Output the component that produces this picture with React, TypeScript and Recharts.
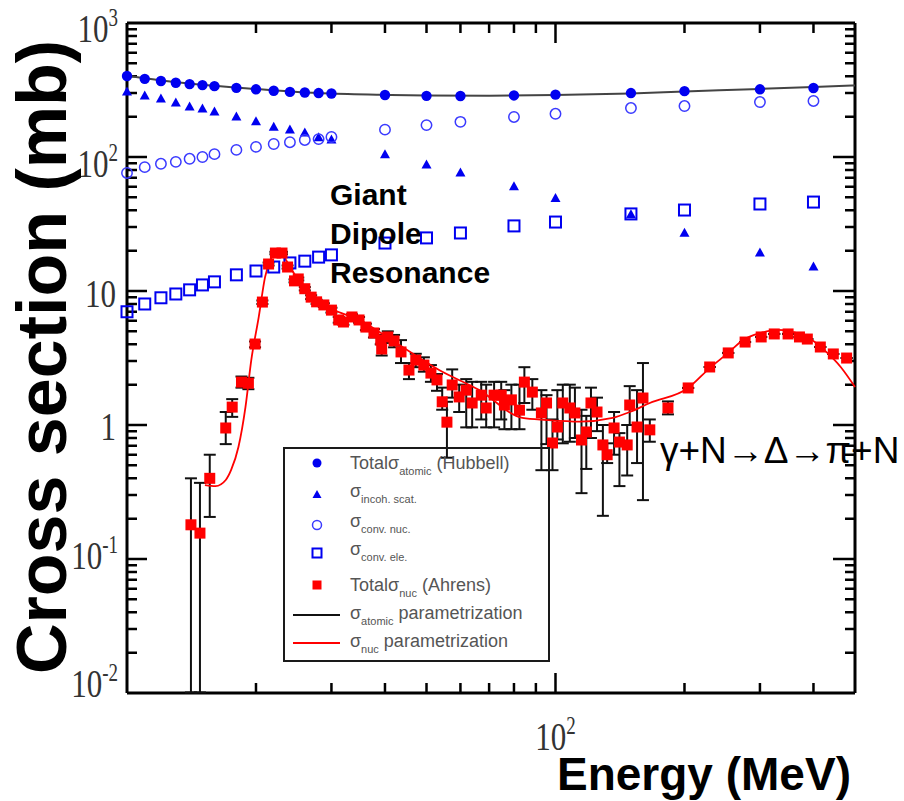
import React from 'react';
import { ScatterChart, Scatter, XAxis, YAxis, ErrorBar, ReferenceLine } from 'recharts';

// Hubbell energies (MeV) and the four photon cross sections (mb)
const energies = [10, 11, 12, 13, 14, 15, 16, 18, 20, 22, 24, 26, 28, 30, 40, 50, 60, 80, 100, 150, 200, 300, 400];
const totalAtomic = [402, 383, 369, 358, 350, 344, 338, 328, 320, 312, 306, 303, 300, 298, 290, 286, 285, 288, 292, 300, 310, 320, 327];
const incohScat = [305, 285, 271, 253, 236, 228, 217, 199, 183, 167, 159, 151, 139, 134, 104, 87, 76, 60, 49, 37, 27, 19.2, 15.1];
const convNuc = [76, 84, 89, 92, 97, 100, 105, 113, 119, 125, 129, 134, 136, 141, 160, 173, 183, 199, 210, 232, 240, 257, 262];
const convEle = [7.0, 8.0, 8.9, 9.5, 10.2, 11.1, 11.7, 13.2, 14.1, 15.1, 16.2, 16.7, 17.9, 18.6, 22.8, 24.9, 27.1, 30.6, 32.7, 37.6, 40.2, 44.6, 46.1];

// Ahrens total nuclear cross section: [energy, sigma, lower bound, upper bound]
const ahrens: [number, number, number, number][] = [
  [14.1, 0.18, 0.0101, 0.4],
  [14.8, 0.156, 0.0101, 0.37],
  [15.6, 0.4, 0.206, 0.6],
  [17.0, 0.95, 0.72, 1.25],
  [17.6, 1.36, 1.15, 1.56],
  [18.5, 2.09, 1.9, 2.3],
  [19.2, 2.05, 1.85, 2.25],
  [19.9, 4.02, 3.8, 4.2],
  [20.7, 8.27, 8.0, 8.5],
  [21.4, 15.9, 15.5, 16.3],
  [22.2, 19.2, 18.8, 19.6],
  [23.0, 19.2, 18.8, 19.6],
  [23.7, 15.1, 14.7, 15.5],
  [24.6, 11.9, 11.6, 12.2],
  [25.1, 12.3, 12.0, 12.6],
  [26.0, 10.4, 10.1, 10.7],
  [26.9, 9.0, 8.7, 9.3],
  [27.7, 8.3, 8.0, 8.6],
  [28.8, 7.87, 7.6, 8.1],
  [30.0, 7.2, 6.9, 7.5],
  [31.2, 6.08, 5.8, 6.4],
  [32.0, 5.87, 5.6, 6.2],
  [33.5, 6.4, 6.1, 6.7],
  [34.8, 6.08, 5.8, 6.4],
  [36.1, 5.38, 5.1, 5.7],
  [37.7, 4.86, 4.5, 5.2],
  [39.1, 4.31, 4.0, 4.7],
  [39.3, 3.69, 3.3, 4.1],
  [40.6, 4.54, 4.1, 5.0],
  [42.0, 4.24, 3.8, 4.7],
  [43.6, 3.51, 2.9, 4.3],
  [45.5, 2.57, 2.2, 2.9],
  [47.2, 3.05, 2.7, 3.4],
  [49.3, 2.8, 2.5, 3.2],
  [51.2, 2.44, 2.1, 2.8],
  [52.9, 2.17, 1.8, 2.4],
  [54.4, 1.49, 1.3, 1.9],
  [55.8, 1.05, 0.57, 1.49],
  [57.4, 1.99, 1.6, 2.6],
  [59.6, 1.62, 1.25, 2.0],
  [61.9, 1.82, 0.96, 2.2],
  [63.9, 1.46, 0.96, 2.1],
  [67.1, 1.67, 1.1, 2.1],
  [68.9, 1.34, 0.96, 2.0],
  [71.9, 1.67, 0.96, 2.1],
  [74.7, 1.67, 1.1, 2.1],
  [76.0, 1.41, 0.93, 1.82],
  [78.9, 1.54, 0.93, 2.0],
  [82.4, 1.29, 0.93, 2.0],
  [84.6, 2.09, 1.46, 2.7],
  [88.3, 1.76, 1.3, 2.2],
  [92.7, 1.23, 0.46, 1.82],
  [95.3, 1.46, 0.72, 1.67],
  [98.4, 0.734, 0.46, 1.1],
  [101, 0.966, 0.78, 1.82],
  [104, 1.46, 0.73, 2.0],
  [108, 1.34, 0.75, 2.0],
  [111, 1.23, 0.8, 1.9],
  [115, 0.773, 0.31, 1.3],
  [118, 0.887, 0.47, 1.17],
  [121, 1.46, 0.8, 1.9],
  [125, 1.25, 0.9, 1.6],
  [129, 0.71, 0.21, 1.0],
  [132, 0.6, 0.52, 0.73],
  [137, 0.95, 0.6, 1.25],
  [141, 0.746, 0.35, 0.87],
  [147, 0.71, 0.42, 1.0],
  [149, 1.41, 1.0, 1.95],
  [155, 0.966, 0.52, 1.82],
  [160, 1.59, 0.275, 2.9],
  [166, 0.92, 0.75, 1.1],
  [183, 1.34, 1.2, 1.5],
  [204, 1.89, 1.89, 1.89],
  [229, 2.71, 2.71, 2.71],
  [253, 3.45, 3.45, 3.45],
  [277, 4.16, 4.16, 4.16],
  [302, 4.54, 4.54, 4.54],
  [324, 4.78, 4.78, 4.78],
  [349, 4.78, 4.78, 4.78],
  [371, 4.54, 4.54, 4.54],
  [387, 4.38, 4.38, 4.38],
  [415, 3.82, 3.82, 3.82],
  [445, 3.39, 3.39, 3.39],
  [478, 3.16, 3.16, 3.16],
];

// parametrization curves: [energy, sigma]
const atomicParam: [number, number][] = [
  [10, 405], [12, 372], [15, 346], [20, 322], [25, 306], [30, 298], [40, 291], [50, 288],
  [70, 287], [100, 290], [150, 298], [200, 308], [300, 322], [400, 333], [500, 342],
];
const nucParam: [number, number][] = [
  [15.2, 0.356], [16.1, 0.35], [17.0, 0.389], [17.5, 0.462], [18.2, 0.685], [18.9, 1.36],
  [19.5, 3.05], [20.3, 6.4], [21.0, 12.7], [21.6, 17.0], [22.2, 19.5], [22.8, 19.0],
  [25.1, 12.1], [30, 7.4], [34.8, 6.1], [43.2, 3.95], [53.5, 2.57], [66.4, 1.82],
  [83.7, 1.13], [95.3, 1.09], [114, 1.06], [136, 1.13], [149, 1.25], [166, 1.46],
  [204, 1.89], [229, 2.66], [253, 3.45], [274, 4.31], [301, 4.86], [329, 5.12],
  [353, 5.0], [387, 4.54], [431, 3.45], [463, 2.71], [500, 1.92],
];

const xDomain = [10, 500];
const yDomain = [0.01, 1000];
const xTicks = [20, 30, 40, 50, 60, 70, 80, 90, 100, 200, 300, 400];
const xLabelTicks = [100];
const yDecades = [0.01, 0.1, 1, 10, 100];
const yLabelTicks = [0.01, 0.1, 1, 10, 100, 1000];
const yTicks = yDecades.flatMap((d) => [2, 3, 4, 5, 6, 7, 8, 9].map((m) => +(m * d).toPrecision(3))).concat([0.1, 1, 10, 100]);

const hubbell = (vals: number[]) => energies.map((x, i) => ({ x, y: vals[i] }));
const nucData = ahrens.map(([x, y, lo, hi]) => ({ x, y, err: [y - lo, hi - y] }));
const curve = (pts: [number, number][]) => pts.map(([x, y]) => ({ x, y }));

const BLUE = '#0000f0';
const RED = '#ff0000';
const INK = '#000';
const sans = '"Liberation Sans", Arial, "DejaVu Sans", sans-serif';
const serif = '"Liberation Serif", "DejaVu Serif", serif';

const isMajor = (v: number) => {
  const l = Math.log10(v);
  return Math.abs(l - Math.round(l)) < 1e-6;
};

function PowText({ x, y, exp, anchor }: any) {
  const base = exp === 0 ? '1' : '10';
  return (
    <text
      transform={`translate(${x},${y}) scale(1,1.3)`}
      textAnchor={anchor}
      fontFamily={serif}
      fontSize={31}
      fill="#333"
    >
      {base}
      {exp !== 0 && exp !== 1 && (
        <tspan dy={-12} fontSize={19}>
          {exp}
        </tspan>
      )}
    </text>
  );
}

const labelDrop: Record<number, number> = { 3: 19, 2: 20, 1: 16, 0: 15, [-1]: 10, [-2]: 4 };

function LeftLabel({ x, y, payload }: any) {
  const e = Math.round(Math.log10(payload.value));
  return <PowText x={x - (e === 0 || e === 1 ? 11 : 9)} y={y + labelDrop[e]} exp={e} anchor="end" />;
}

function BottomLabel({ x, y, payload }: any) {
  return <PowText x={x} y={y + 57} exp={Math.round(Math.log10(payload.value))} anchor="middle" />;
}

// inward ticks drawn as paths at both ends of a full-width / full-height reference line
const yTickShape = (v: number) => (p: any) => {
  const len = isMajor(v) ? 20 : 10;
  const l = Math.min(p.x1, p.x2);
  const r = Math.max(p.x1, p.x2);
  const y = p.y1;
  return (
    <path
      d={`M${l},${y}H${l + len}M${r},${y}H${r - len - (isMajor(v) ? 2 : 0)}`}
      stroke={INK}
      strokeWidth={2.5}
      fill="none"
    />
  );
};

const xTickShape = (v: number) => (p: any) => {
  const len = isMajor(v) ? 20 : 10;
  const t = Math.min(p.y1, p.y2);
  const b = Math.max(p.y1, p.y2);
  const x = p.x1;
  return <path d={`M${x},${b}V${b - len}M${x},${t}V${t + len}`} stroke={INK} strokeWidth={2.5} fill="none" />;
};

const dotShape = ({ cx, cy }: any) => <circle cx={cx} cy={cy} r={5.2} fill={BLUE} />;
const triShape = ({ cx, cy }: any) => (
  <path d={`M${cx},${cy - 5.5} L${cx + 5},${cy + 3.5} L${cx - 5},${cy + 3.5} Z`} fill={BLUE} />
);
const ringShape = ({ cx, cy }: any) => (
  <circle cx={cx} cy={cy} r={5.2} fill="none" stroke="#3a3aff" strokeWidth={1.5} />
);
const boxShape = ({ cx, cy }: any) => (
  <rect x={cx - 5.5} y={cy - 5.5} width={11} height={11} fill="none" stroke={BLUE} strokeWidth={2} />
);
const redShape = ({ cx, cy }: any) => <rect x={cx - 5.5} y={cy - 5.5} width={11} height={11} fill={RED} />;
const noShape = () => <g />;

// σ with a subscript, then optional trailing text back on the baseline
function SigmaLabel({ x, y, pre, sub, post }: { x: number; y: number; pre?: string; sub: string; post?: string }) {
  return (
    <text x={x} y={y}>
      {pre ? `${pre}σ` : 'σ'}
      <tspan dy={6} fontSize={11}>
        {sub}
      </tspan>
      {post && <tspan dy={-6}>{post}</tspan>}
    </text>
  );
}

function Overlay() {
  const mx = 317;
  const tx = 350;
  const rows = [463, 495, 525, 553, 585, 615, 643];
  return (
    <svg width={904} height={801} style={{ position: 'absolute', left: 0, top: 0, pointerEvents: 'none' }}>
      <text
        transform="translate(66,357) rotate(-90)"
        textAnchor="middle"
        fontFamily={sans}
        fontWeight="bold"
        fontSize={70}
        fill="#000"
      >
        Cross section (mb)
      </text>
      <text x={557} y={790} fontFamily={sans} fontWeight="bold" fontSize={46} fill="#000">
        Energy (MeV)
      </text>
      <g fontFamily={sans} fontWeight="bold" fontSize={30} fill="#000">
        <text x={330} y={205}>Giant</text>
        <text x={330} y={244}>Dipole</text>
        <text x={330} y={283}>Resonance</text>
      </g>
      <text x={660} y={463} fontFamily={sans} fontSize={37} fill="#000">
        γ+N→Δ→π+N
      </text>

      <rect x={284} y={448} width={265} height={213} fill="none" stroke="#1a1a1a" strokeWidth={2} />
      <circle cx={mx} cy={rows[0]} r={4.5} fill={BLUE} />
      <path d={`M${mx},${rows[1] - 5} L${mx + 4.5},${rows[1] + 3} L${mx - 4.5},${rows[1] + 3} Z`} fill={BLUE} />
      <circle cx={mx} cy={rows[2]} r={4.5} fill="none" stroke="#3a3aff" strokeWidth={1.5} />
      <rect x={mx - 4.5} y={rows[3] - 4.5} width={9} height={9} fill="none" stroke={BLUE} strokeWidth={2} />
      <rect x={mx - 4.5} y={rows[4] - 4.5} width={9} height={9} fill={RED} />
      <line x1={293} x2={340} y1={rows[5]} y2={rows[5]} stroke="#111" strokeWidth={2} />
      <line x1={293} x2={340} y1={rows[6]} y2={rows[6]} stroke={RED} strokeWidth={2} />
      <g fontFamily={sans} fontSize={18} fill="#555">
        <SigmaLabel x={tx} y={rows[0] + 6} pre="Total" sub="atomic" post=" (Hubbell)" />
        <SigmaLabel x={tx} y={rows[1] + 2} sub="incoh. scat." />
        <SigmaLabel x={tx} y={rows[2] + 2} sub="conv. nuc." />
        <SigmaLabel x={tx} y={rows[3] + 2} sub="conv. ele." />
        <SigmaLabel x={tx} y={rows[4] + 6} pre="Total" sub="nuc" post=" (Ahrens)" />
        <SigmaLabel x={tx} y={rows[5] + 4} sub="atomic" post=" parametrization" />
        <SigmaLabel x={tx} y={rows[6] + 4} sub="nuc" post=" parametrization" />
      </g>
    </svg>
  );
}

export default function App() {
  return (
    <div
      style={{
        position: 'absolute',
        left: 0,
        top: 0,
        width: 904,
        height: 801,
        background: '#fff',
        overflow: 'hidden',
      }}
    >
      <ScatterChart width={904} height={801} margin={{ top: 23, right: 49, bottom: 107, left: 126 }}>
        <XAxis
          xAxisId="b"
          type="number"
          dataKey="x"
          scale="log"
          domain={xDomain}
          ticks={xLabelTicks}
          interval={0}
          tickSize={0}
          tickMargin={0}
          tickLine={false}
          axisLine={false}
          height={1}
          tick={(p: any) => <BottomLabel {...p} />}
        />
        <YAxis
          yAxisId="l"
          type="number"
          dataKey="y"
          scale="log"
          domain={yDomain}
          ticks={yLabelTicks}
          interval={0}
          tickSize={0}
          tickMargin={0}
          tickLine={false}
          axisLine={false}
          width={1}
          tick={(p: any) => <LeftLabel {...p} />}
        />

        {yTicks.map((v) => (
          <ReferenceLine key={`y${v}`} xAxisId="b" yAxisId="l" y={v} stroke={INK} shape={yTickShape(v)} />
        ))}
        {xTicks.map((v) => (
          <ReferenceLine key={`x${v}`} xAxisId="b" yAxisId="l" x={v} stroke={INK} shape={xTickShape(v)} />
        ))}
        <ReferenceLine xAxisId="b" yAxisId="l" x={xDomain[0]} stroke={INK} strokeWidth={3} />
        <ReferenceLine xAxisId="b" yAxisId="l" x={xDomain[1]} stroke={INK} strokeWidth={3} />
        <ReferenceLine xAxisId="b" yAxisId="l" y={yDomain[0]} stroke={INK} strokeWidth={3} />
        <ReferenceLine xAxisId="b" yAxisId="l" y={yDomain[1]} stroke={INK} strokeWidth={3} />

        <Scatter
          xAxisId="b"
          yAxisId="l"
          data={curve(atomicParam)}
          line={{ stroke: '#444', strokeWidth: 2 }}
          lineJointType="monotoneX"
          shape={noShape}
          isAnimationActive={false}
        />
        <Scatter
          xAxisId="b"
          yAxisId="l"
          data={curve(nucParam)}
          line={{ stroke: RED, strokeWidth: 1.8 }}
          lineJointType="monotoneX"
          shape={noShape}
          isAnimationActive={false}
        />
        <Scatter xAxisId="b" yAxisId="l" data={hubbell(totalAtomic)} shape={dotShape} isAnimationActive={false} />
        <Scatter xAxisId="b" yAxisId="l" data={hubbell(incohScat)} shape={triShape} isAnimationActive={false} />
        <Scatter xAxisId="b" yAxisId="l" data={hubbell(convNuc)} shape={ringShape} isAnimationActive={false} />
        <Scatter xAxisId="b" yAxisId="l" data={hubbell(convEle)} shape={boxShape} isAnimationActive={false} />
        <Scatter xAxisId="b" yAxisId="l" data={nucData} shape={redShape} isAnimationActive={false}>
          <ErrorBar dataKey="err" direction="y" width={6} stroke="#111" strokeWidth={2} isAnimationActive={false} />
        </Scatter>
      </ScatterChart>
      <Overlay />
    </div>
  );
}
